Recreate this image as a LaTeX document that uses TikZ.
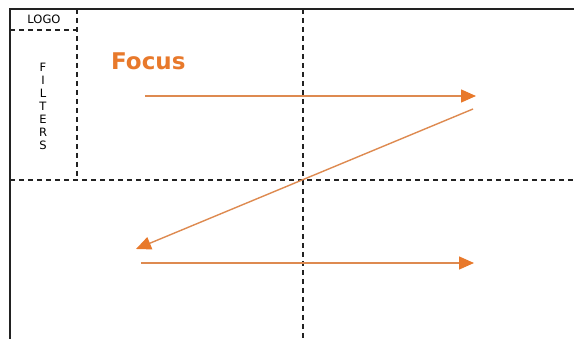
\documentclass[tikz,border=0pt]{standalone}
\usepackage{fontspec}
\setmainfont{DejaVu Sans}
\usetikzlibrary{arrows.meta}
\definecolor{focusorange}{HTML}{E8792B}
\definecolor{arrowline}{HTML}{DE8A50}
\definecolor{frameline}{HTML}{222222}
\tikzset{
  frame/.style={draw=frameline, line width=1.3pt},
  divider/.style={draw=frameline, line width=1.2pt, dash pattern=on 5pt off 4pt},
  flow/.style={draw=arrowline, line width=1.4pt,
    -{Triangle[length=15pt,width=13pt,fill=focusorange,color=focusorange]}},
  smalltext/.style={font=\fontsize{11.5}{13}\selectfont, text=black, inner sep=0pt}
}
\begin{document}
\begin{tikzpicture}[x=1pt,y=-1pt]
\useasboundingbox (0,0) rectangle (574,339);
\fill[white] (0,0) rectangle (574,339);
% frame
\coordinate (tl) at (10,9);
\coordinate (tr) at (574,9);
\coordinate (bl) at (10,339);
\draw[frame] (bl) -- (tl) -- (tr);
% dividers
\coordinate (vt) at (303,9);
\coordinate (vb) at (303,339);
\coordinate (hl) at (10,180);
\coordinate (hr) at (574,180);
\draw[divider] (vt) -- (vb);
\draw[divider] (hl) -- (hr);
\coordinate (pt) at (77,9);
\coordinate (pb) at (77,180);
\coordinate (ll) at (10,30);
\coordinate (lr) at (77,30);
\draw[divider] (pt) -- (pb);
\draw[divider] (ll) -- (lr);
% texts
\node[smalltext] (logo) at (44,19.5) {LOGO};
\node[smalltext, align=center] (filters) at (43,106) {%
  \baselineskip=14.8pt F\\I\\L\\T\\E\\R\\S};
\node[font=\fontsize{23}{25}\selectfont\bfseries, text=focusorange, inner sep=0pt, anchor=west] (focus) at (111,61) {Focus};
% arrows
\coordinate (a1s) at (145,96);
\coordinate (a1e) at (476,96);
\coordinate (a2s) at (473,109);
\coordinate (a2e) at (136,249);
\coordinate (a3s) at (141,263);
\coordinate (a3e) at (474,263);
\draw[flow] (a1s) -- (a1e);
\draw[flow] (a2s) -- (a2e);
\draw[flow] (a3s) -- (a3e);
\end{tikzpicture}
\end{document}
